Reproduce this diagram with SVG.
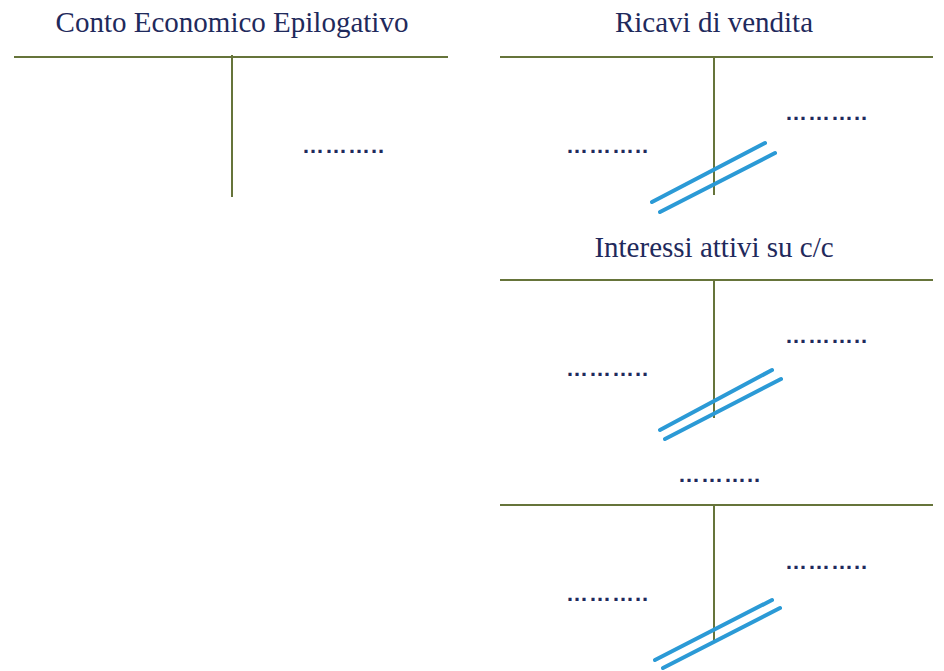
<svg xmlns="http://www.w3.org/2000/svg" width="944" height="671" viewBox="0 0 944 671">
<style>
.title{font-family:"Liberation Serif","DejaVu Serif",serif;font-size:29px;fill:#1f2a5c;text-anchor:middle}
.dots{font-family:"Liberation Sans",Arial,sans-serif;font-size:22px;font-weight:bold;fill:#1f2a5c;letter-spacing:1px}
.tl{stroke:#66743a;stroke-width:2;fill:none}
.bl{stroke:#2b9ad6;stroke-width:4;fill:none;stroke-linecap:round}
</style>
<rect width="944" height="671" fill="#ffffff"/>
<g id="conto-economico">
<text class="title" x="232" y="32">Conto Economico Epilogativo</text>
<line class="tl" x1="14" y1="57" x2="448" y2="57"/>
<line class="tl" x1="232" y1="55" x2="232" y2="197"/>
<text class="dots" x="302" y="153">………..</text>
</g>
<g id="ricavi">
<text class="title" x="714" y="32">Ricavi di vendita</text>
<line class="tl" x1="500" y1="57" x2="933" y2="57"/>
<line class="tl" x1="714" y1="57" x2="714" y2="195"/>
<text class="dots" x="566" y="153">………..</text>
<text class="dots" x="785" y="120">………..</text>
<line class="bl" x1="652" y1="202" x2="765" y2="143"/>
<line class="bl" x1="660" y1="212" x2="775" y2="153"/>
</g>
<g id="interessi">
<text class="title" x="714" y="257">Interessi attivi su c/c</text>
<line class="tl" x1="500" y1="280" x2="933" y2="280"/>
<line class="tl" x1="714" y1="280" x2="714" y2="418"/>
<text class="dots" x="566" y="376">………..</text>
<text class="dots" x="785" y="343">………..</text>
<line class="bl" x1="660" y1="430" x2="772" y2="370"/>
<line class="bl" x1="665" y1="439" x2="781" y2="379"/>
</g>
<g id="terzo-conto">
<text class="dots" x="678" y="482">………..</text>
<line class="tl" x1="500" y1="505" x2="933" y2="505"/>
<line class="tl" x1="714" y1="505" x2="714" y2="640"/>
<text class="dots" x="566" y="601">………..</text>
<text class="dots" x="785" y="569">………..</text>
<line class="bl" x1="655" y1="660" x2="772" y2="600"/>
<line class="bl" x1="663" y1="668" x2="780" y2="608"/>
</g>
<g id="connectors"/>
</svg>
